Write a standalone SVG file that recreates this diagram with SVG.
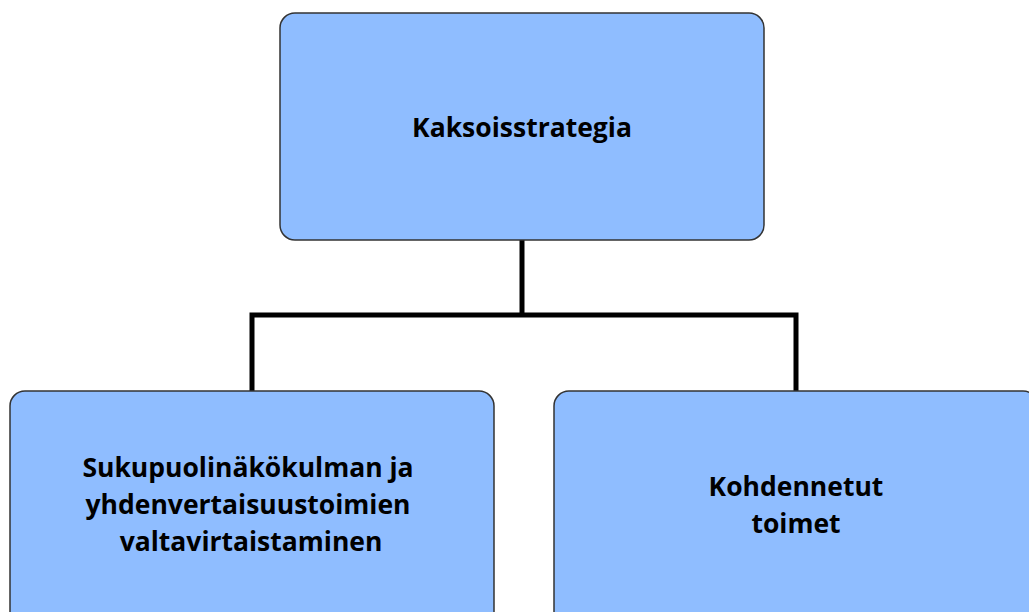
<svg xmlns="http://www.w3.org/2000/svg" width="1029" height="612" viewBox="0 0 1029 612">
<style>
.box{fill:#8fbdff;stroke:#333;stroke-width:1.5}
.t{font-family:"Open Sans","Liberation Sans",sans-serif;font-weight:bold;font-size:26.5px;fill:#000;text-anchor:middle}
.c{fill:none;stroke:#000;stroke-width:5}
</style>
<rect width="1029" height="612" fill="#fff"/>
<g id="connectors">
<path class="c" d="M522,240 V315"/>
<path class="c" d="M252,391 V315 H796 V391"/>
</g>
<g id="n1"><rect class="box" x="280" y="13" width="484" height="227" rx="15"/><text class="t" x="522" y="137">Kaksoisstrategia</text></g>
<g id="n2"><rect class="box" x="10" y="391" width="484" height="240" rx="15"/><text class="t" x="248" y="477">Sukupuolinäkökulman ja</text><text class="t" x="248" y="514">yhdenvertaisuustoimien</text><text class="t" x="251" y="551">valtavirtaistaminen</text></g>
<g id="n3"><rect class="box" x="554" y="391" width="484" height="240" rx="15"/><text class="t" x="796" y="496">Kohdennetut</text><text class="t" x="796" y="533">toimet</text></g>
</svg>
